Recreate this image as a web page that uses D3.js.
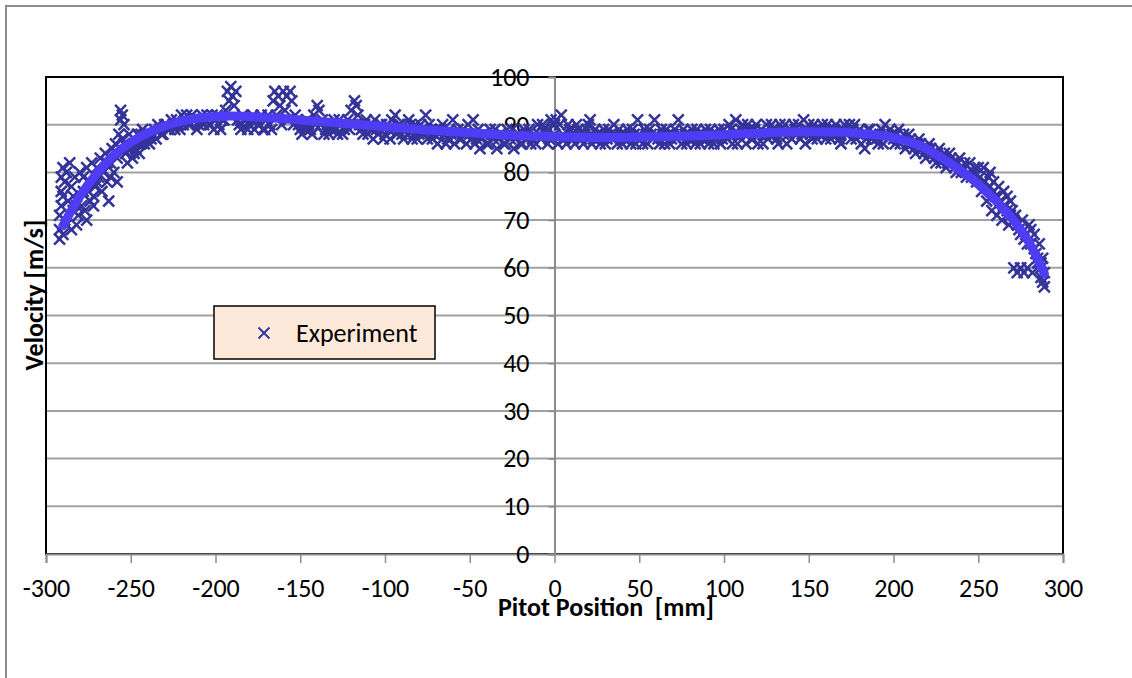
<!DOCTYPE html>
<html>
<head>
    <meta charset="utf-8">
    <title>Pitot Velocity Profile</title>
    <script src="https://d3js.org/d3.v7.min.js"></script>
    <style>
        body { margin: 0; background: #fff; }
        text { font-family: Carlito, Lato, sans-serif; }
    </style>
</head>
<body>
    <svg width="1132" height="678"></svg>
    <script>
        // measured pitot traverse, [mm] and [m/s]
        const positions = [
            -292, -292, -292, -291, -291, -291, -290, -290, -290, -289, -289, -288, -288, -287, -286, -285, -285, -284, -283, -282, -281, -280, -279, -278, -277, -276, -275, -274, -273, -272, -271, -270,
            -268, -267, -266, -265, -264, -263, -262, -261, -260, -259, -258, -257, -256, -256, -255, -255, -254, -253, -252, -251, -250, -249, -248, -247, -246, -245, -244, -243, -242, -241, -240,
            -238, -236, -234, -232, -230, -228, -226, -224, -222, -220, -218, -216, -214, -212, -210, -208, -206, -204, -202, -200,
            -198, -196, -194, -193, -192, -191, -190, -189, -188, -187, -186, -184, -182, -180, -178, -176, -174, -172, -170, -168, -166, -165, -164, -163, -162, -161, -160, -159, -158, -157, -156, -155, -154, -152, -150,
            -148, -146, -144, -142, -140, -139, -138, -136, -134, -132, -130, -128, -126, -124, -122, -120, -118, -117, -116, -114, -112, -110, -108, -106, -104, -102, -100,
            -98, -96, -94, -92, -90, -88, -86, -84, -82, -80, -78, -76, -74, -72, -70, -68, -66, -64, -62, -60, -58, -56, -54, -52, -50,
            -48, -46, -44, -42, -40, -38, -36, -34, -32, -30, -28, -26, -24, -22, -20, -18, -16, -14, -12, -10, -8, -6, -4, -2, 0,
            1, 2, 3, 4, 5, 7, 9, 11, 13, 15, 17, 19, 21, 23, 25, 27, 29, 31, 33, 35, 37, 39, 41, 43, 45, 47, 49,
            51, 53, 55, 57, 59, 61, 63, 65, 67, 69, 71, 73, 75, 77, 79, 81, 83, 85, 87, 89, 91, 93, 95, 97, 99,
            101, 103, 105, 107, 109, 111, 113, 115, 117, 119, 121, 123, 125, 127, 129, 131, 133, 135, 137, 139, 141, 143, 145, 147, 149,
            151, 153, 155, 157, 159, 161, 163, 165, 167, 169, 171, 173, 175, 177, 179, 181, 183, 185, 187, 189, 191, 193, 195, 197, 199,
            201, 203, 205, 207, 209, 211, 213, 215, 217, 219, 221, 223, 225, 227, 229, 231, 233, 235, 237, 239, 241, 243, 245, 247, 249, 250,
            251, 252, 253, 254, 255, 256, 257, 258, 259, 260, 261, 262, 263, 264, 265, 266, 267, 268, 269, 270,
            271, 272, 273, 274, 275, 276, 277, 278, 279, 280, 281, 282, 283, 284, 285, 286, 287, 288, 289, 289, 288, 287,
            // second pass of the traverse
            -284, -282, -278, -276, -274, -272, -270, -269, -264, -262, -258, -254, -252, -248, -246, -244, -242,
            -239, -237, -235, -233, -231, -229, -227, -225, -223, -221, -219, -217, -215, -213, -211, -209, -207, -205, -203, -201, -199, -197, -195,
            -185, -183, -181, -179, -177, -175, -173, -171, -169, -167, -153, -151, -149, -147, -145, -143, -141, -137, -135, -133, -131, -129, -127, -125, -123, -121, -119,
            -115, -113, -111, -109, -107, -105, -103, -101,
            -99, -97, -95, -93, -91, -89, -87, -85, -83, -81, -79, -77, -75, -73, -71, -69, -67, -65, -63, -61, -59, -57, -55, -53, -51,
            -49, -47, -45, -43, -41, -39, -37, -35, -33, -31, -29, -27, -25, -23, -21, -19, -17, -15, -13, -11, -9, -7, -5, -3, -1,
            0, 6, 8, 10, 12, 14, 16, 18, 20, 22, 24, 26, 28, 30, 32, 34, 36, 38, 40, 42, 44, 46, 48, 50,
            52, 54, 56, 58, 60, 62, 64, 66, 68, 70, 72, 74, 76, 78, 80, 82, 84, 86, 88, 90, 92, 94, 96, 98, 100,
            102, 104, 106, 108, 110, 112, 114, 116, 118, 120, 122, 124, 126, 128, 130, 132, 134, 136, 138, 140, 142, 144, 146, 148, 150,
            152, 154, 156, 158, 160, 162, 164, 166, 168, 170, 172, 174, 176, 178, 180, 182, 184, 186, 188, 190, 192, 194, 196, 198, 200,
            202, 204, 206, 208, 210, 212, 214, 216, 218, 220, 222, 224, 226, 228, 230, 232, 234, 236, 238, 240, 242, 244, 246, 248,
            253, 257, 259, 261, 263, 265, 267, 269, 271, 273, 275, 277, 279, 281, 283, 285, 287
        ]
        const velocities = [
            66, 68, 71, 73, 76, 79, 67, 75, 81, 70, 78, 69, 80, 74, 82, 68, 77, 72, 79, 69, 71, 80, 73, 79, 72, 81, 76, 74, 82, 75, 77, 78,
            83, 76, 80, 84, 78, 74, 82, 85, 80, 86, 78, 88, 91, 93, 92, 87, 90, 84, 82, 88, 85, 83, 87, 85, 88, 84, 86, 89, 86, 87, 88,
            87, 89, 90, 88, 90, 89, 91, 89, 90, 92, 91, 90, 92, 91, 90, 92, 91, 90, 92, 91,
            90, 91, 93, 97, 95, 98, 96, 94, 97, 91, 90, 92, 91, 90, 92, 91, 90, 89, 91, 90, 95, 97, 92, 96, 94, 90, 97, 93, 96, 91, 97, 95, 90, 91, 89,
            90, 91, 89, 92, 94, 93, 90, 88, 90, 89, 91, 88, 90, 89, 91, 93, 95, 94, 92, 89, 90, 88, 89, 91, 88, 90, 88,
            89, 91, 92, 90, 88, 89, 91, 87, 90, 88, 89, 92, 90, 87, 89, 88, 90, 86, 89, 91, 88, 87, 89, 86, 88,
            91, 87, 85, 88, 86, 89, 87, 85, 88, 86, 89, 87, 85, 88, 86, 89, 87, 86, 88, 90, 87, 89, 86, 91, 88,
            91, 86, 90, 92, 88, 86, 89, 87, 90, 88, 86, 89, 91, 87, 88, 86, 89, 87, 88, 90, 86, 88, 87, 89, 86, 88, 91,
            87, 89, 86, 88, 91, 87, 89, 86, 88, 87, 89, 91, 86, 88, 87, 89, 86, 88, 87, 89, 86, 88, 87, 89, 87,
            88, 90, 86, 91, 88, 90, 86, 89, 87, 90, 88, 86, 90, 88, 89, 87, 90, 88, 86, 89, 90, 88, 87, 91, 89,
            88, 90, 87, 89, 88, 90, 87, 89, 88, 86, 90, 88, 87, 90, 88, 86, 85, 89, 87, 88, 86, 89, 90, 87, 88,
            86, 89, 87, 85, 88, 86, 84, 87, 85, 83, 86, 84, 82, 85, 83, 81, 84, 82, 80, 83, 81, 79, 82, 80, 78, 81,
            79, 76, 81, 78, 74, 79, 77, 72, 78, 75, 71, 77, 74, 70, 76, 73, 75, 69, 74, 72,
            60, 71, 59, 68, 60, 70, 59, 67, 60, 69, 65, 59, 67, 63, 61, 65, 58, 62, 56, 59, 57, 60,
            // second pass of the traverse
            75, 73, 76, 70, 78, 73, 81, 79, 82, 79, 83, 86, 85, 84, 86, 88, 88,
            86, 88, 87, 89, 88, 90, 89, 90, 91, 89, 90, 92, 90, 91, 89, 91, 90, 92, 90, 89, 92, 89, 91,
            89, 91, 89, 91, 89, 90, 92, 89, 92, 89, 92, 90, 88, 89, 90, 88, 90, 91, 89, 88, 90, 89, 91, 88, 90, 89, 90,
            90, 88, 91, 90, 87, 89, 90, 87,
            90, 87, 89, 88, 90, 87, 88, 90, 88, 87, 90, 88, 87, 89, 88, 86, 89, 88, 87, 88, 86, 89, 87, 88, 90,
            87, 86, 89, 87, 88, 86, 88, 89, 87, 88, 86, 88, 89, 87, 88, 86, 88, 89, 87, 86, 88, 90, 88, 87, 90,
            90, 87, 90, 88, 86, 89, 87, 88, 90, 86, 89, 87, 88, 86, 89, 87, 88, 89, 86, 88, 87, 89, 86, 88,
            86, 88, 89, 87, 88, 86, 88, 89, 86, 88, 87, 88, 89, 86, 88, 87, 89, 86, 88, 87, 89, 86, 88, 86, 89,
            87, 89, 88, 86, 89, 88, 90, 87, 89, 86, 89, 88, 87, 90, 88, 86, 89, 90, 88, 87, 89, 90, 88, 86, 90,
            87, 89, 88, 90, 87, 89, 88, 90, 87, 89, 88, 90, 89, 87, 89, 88, 87, 89, 88, 87, 88, 86, 88, 89, 87,
            88, 86, 88, 86, 87, 85, 86, 86, 84, 85, 85, 83, 84, 82, 84, 82, 83, 81, 82, 80, 82, 80, 79, 81,
            78, 80, 76, 75, 72, 73, 72, 71, 70, 69, 67, 66, 65, 68, 64, 62, 61
        ]
        // trend line
        const fitX = [-290, -280, -270, -260, -250, -240, -225, -210, -200, -190, -175, -150, -125, -100, -75, -50, -25, 0, 25, 50, 75, 100, 125, 150, 175, 200, 215, 225, 240, 250, 260, 270, 280, 289]
        const fitY = [68.8, 75, 79.8, 83.6, 86.3, 88.3, 90.3, 91.4, 91.7, 91.8, 91.6, 91.0, 90.3, 89.6, 88.9, 88.3, 87.8, 87.5, 87.3, 87.4, 87.6, 87.9, 88.3, 88.5, 88.3, 87.3, 85.7, 83.8, 80.3, 77.5, 74.2, 70.3, 65.3, 58.8]

        const xTicks = [-300, -250, -200, -150, -100, -50, 0, 50, 100, 150, 200, 250, 300]
        const yTicks = [0, 10, 20, 30, 40, 50, 60, 70, 80, 90, 100]

        const svg = d3.select("svg")
        const margin = { top: 77, left: 46, right: 69, bottom: 124 }
        const width = +svg.attr("width")
        const height = +svg.attr("height")
        const innerWidth = width - margin.left - margin.right
        const innerHeight = height - margin.top - margin.bottom
        const labelFont = "Carlito, Lato, sans-serif"

        // outer chart frame
        svg.append("rect")
            .attr("x", 6).attr("y", 6)
            .attr("width", 1140).attr("height", 700)
            .attr("fill", "none").attr("stroke", "#8c8c8c").attr("stroke-width", 2)

        const xScale = d3.scaleLinear().domain([-300, 300]).range([0, innerWidth])
        const yScale = d3.scaleLinear().domain([0, 100]).range([innerHeight, 0])

        const g = svg.append("g")
            .attr("transform", `translate(${margin.left},${margin.top})`)

        // horizontal grid
        g.selectAll(".grid")
            .data(yTicks.filter(d => d > 0 && d < 100))
            .enter()
            .append("line")
            .attr("x1", 0).attr("x2", innerWidth)
            .attr("y1", d => yScale(d)).attr("y2", d => yScale(d))
            .attr("stroke", "#a0a0a0").attr("stroke-width", 2)

        // plot border
        g.append("rect")
            .attr("width", innerWidth).attr("height", innerHeight)
            .attr("fill", "none").attr("stroke", "#000").attr("stroke-width", 2)

        // x axis along the bottom, plain hyphen minus like the original
        const xAxis = d3.axisBottom(xScale).tickValues(xTicks).tickSize(9).tickPadding(16)
            .tickFormat(d => String(d))
        const gx = g.append("g").attr("transform", `translate(0,${innerHeight})`).call(xAxis)
        gx.select(".domain").attr("stroke", "#8c8c8c").attr("stroke-width", 2)
        gx.selectAll(".tick line").attr("stroke", "#8c8c8c").attr("stroke-width", 1.5)
        gx.selectAll(".tick text").attr("font-size", 26).attr("fill", "#000")
            .attr("font-family", labelFont)

        // y axis crosses at x = 0
        const yAxis = d3.axisLeft(yScale).tickValues(yTicks).tickSize(6).tickPadding(19)
            .tickFormat(d => String(d))
        const gy = g.append("g").attr("transform", `translate(${xScale(0)},0)`).call(yAxis)
        gy.select(".domain").attr("stroke", "#8c8c8c").attr("stroke-width", 2)
        gy.selectAll(".tick line").attr("stroke", "#8c8c8c").attr("stroke-width", 1.5)
        gy.selectAll(".tick text").attr("font-size", 26).attr("fill", "#000")
            .attr("font-family", labelFont)

        // scatter of x markers
        const cross = d3.symbol().type(d3.symbolX).size(80)
        const points = positions.map((p, i) => ({ x: p, y: velocities[i] }))
        g.selectAll(".pt")
            .data(points)
            .enter()
            .append("path")
            .attr("d", cross)
            .attr("transform", d => `translate(${xScale(d.x)},${yScale(d.y)})`)
            .attr("fill", "none")
            .attr("stroke", "#333399")
            .attr("stroke-width", 2.5)

        // trend curve on top
        const line = d3.line()
            .x(d => xScale(d[0]))
            .y(d => yScale(d[1]))
            .curve(d3.curveCatmullRom)
        g.append("path")
            .datum(fitX.map((x, i) => [x, fitY[i]]))
            .attr("d", line)
            .attr("fill", "none")
            .attr("stroke", "#4f3cf5")
            .attr("stroke-width", 9)
            .attr("stroke-linecap", "round")

        // axis titles
        svg.append("text")
            .attr("x", 606).attr("y", 616)
            .attr("text-anchor", "middle")
            .attr("font-size", 26).attr("font-weight", "bold")
            .style("white-space", "pre")
            .text("Pitot Position  [mm]")
        svg.append("text")
            .attr("transform", "translate(43,295) rotate(-90)")
            .attr("text-anchor", "middle")
            .attr("font-size", 26).attr("font-weight", "bold")
            .text("Velocity [m/s]")

        // legend
        const legend = svg.append("g").attr("transform", "translate(214,306)")
        legend.append("rect")
            .attr("width", 221).attr("height", 53)
            .attr("fill", "#fde9d9").attr("stroke", "#000").attr("stroke-width", 1.5)
        legend.append("path")
            .attr("d", cross)
            .attr("transform", "translate(50,27)")
            .attr("fill", "none").attr("stroke", "#333399").attr("stroke-width", 2)
        legend.append("text")
            .attr("x", 82).attr("y", 36)
            .attr("font-size", 26)
            .text("Experiment")
    </script>
</body>
</html>
